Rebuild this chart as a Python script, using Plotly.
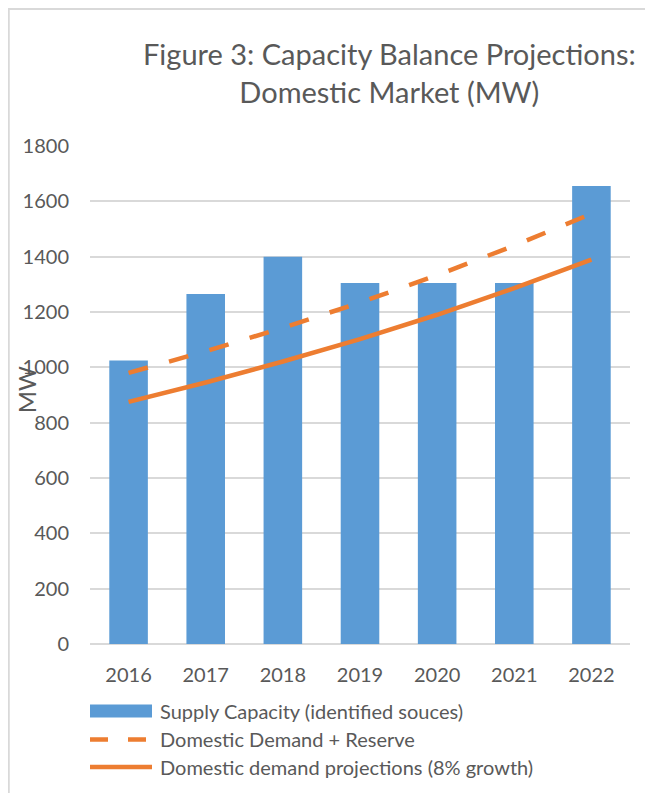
import plotly.graph_objects as go

years = ["2016", "2017", "2018", "2019", "2020", "2021", "2022"]
supply_capacity = [1025, 1265, 1400, 1305, 1305, 1305, 1655]
demand_plus_reserve = [980, 1058, 1143, 1234, 1333, 1440, 1555]
demand_projection = [875, 945, 1021, 1102, 1190, 1286, 1389]
y_ticks = [0, 200, 400, 600, 800, 1000, 1200, 1400, 1600, 1800]

legend_labels = [
    "Supply Capacity (identified souces)",
    "Domestic Demand + Reserve",
    "Domestic demand projections (8% growth)",
]
title_text = "Figure 3: Capacity Balance Projections:<br>Domestic Market (MW)"

OFF = 8  # page body margin in the browser
W, H = 653 - OFF, 793 - OFF
# plot area in screen pixels
SL, SR, ST, SB = 90, 630, 146, 644.5
FONT = "Lato"
GREY = "#595959"
BLUE = "#5b9bd5"
ORANGE = "#ed7d31"
GRID = "#d9d9d9"


def px(x):
    return (x - SL) / (SR - SL)


def py(y):
    return (SB - y) / (SB - ST)


fig = go.Figure()
fig.add_trace(go.Bar(x=years, y=supply_capacity, marker=dict(color=BLUE, line=dict(width=0)),
                     name=legend_labels[0], showlegend=False))
fig.add_trace(go.Scatter(x=years, y=demand_plus_reserve, mode="lines",
                         line=dict(color=ORANGE, width=4.5, dash="20px,22px"),
                         name=legend_labels[1], showlegend=False))
fig.add_trace(go.Scatter(x=years, y=demand_projection, mode="lines",
                         line=dict(color=ORANGE, width=4.5),
                         name=legend_labels[2], showlegend=False))

shapes = []
# outer chart border (left and top)
shapes.append(dict(type="line", xref="paper", yref="paper", x0=px(OFF + 0.5), x1=px(OFF + 0.5),
                   y0=py(OFF), y1=py(800), line=dict(color=GRID, width=2.5)))
shapes.append(dict(type="line", xref="paper", yref="paper", x0=px(OFF), x1=px(660),
                   y0=py(OFF + 0.5), y1=py(OFF + 0.5), line=dict(color=GRID, width=2.5)))
# legend swatches
rows = [711.5, 740, 767.5]
shapes.append(dict(type="rect", xref="paper", yref="paper", x0=px(90), x1=px(152), y0=py(705), y1=py(718),
                   fillcolor=BLUE, line=dict(width=0)))
shapes.append(dict(type="line", xref="paper", yref="paper", x0=px(90), x1=px(152), y0=py(rows[1]), y1=py(rows[1]),
                   line=dict(color=ORANGE, width=4.5, dash="18px,20px")))
shapes.append(dict(type="line", xref="paper", yref="paper", x0=px(90), x1=px(152), y0=py(rows[2]), y1=py(rows[2]),
                   line=dict(color=ORANGE, width=4.5)))

annotations = []
for lab, ry in zip(legend_labels, rows):
    annotations.append(dict(text=lab, xref="paper", yref="paper", x=px(158), y=py(ry),
                            xanchor="left", yanchor="middle", showarrow=False,
                            font=dict(family=FONT, size=20, color=GREY)))
annotations.append(dict(text="MW", xref="paper", yref="paper", x=px(26.5), y=py(390),
                        xanchor="center", yanchor="middle", textangle=-90, showarrow=False,
                        font=dict(family=FONT, size=24, color=GREY)))
annotations.append(dict(text=title_text, xref="paper", yref="paper", x=px(389), y=py(72),
                        xanchor="center", yanchor="middle", align="center", showarrow=False,
                        font=dict(family=FONT, size=29, color=GREY)))

fig.update_layout(
    width=W, height=H,
    margin=dict(l=SL - OFF, r=653 - SR, t=ST - OFF, b=793 - SB, pad=0),
    paper_bgcolor="white", plot_bgcolor="white",
    bargap=0.5,
    showlegend=False,
    font=dict(family=FONT, color=GREY),
    shapes=shapes,
    annotations=annotations,
    xaxis=dict(type="category", range=[-0.5, 6.5], showgrid=False, zeroline=False,
               showline=False, ticks="", tickfont=dict(family=FONT, size=20, color=GREY),
               ticklabelstandoff=17),
    yaxis=dict(range=[0, 1800], tickvals=y_ticks, showgrid=True, gridcolor=GRID, gridwidth=1.5,
               zeroline=True, zerolinecolor=GRID, zerolinewidth=1.5, showline=False, ticks="",
               tickfont=dict(family=FONT, size=20, color=GREY), ticklabelstandoff=20),
)

fig.write_html("out.html")
